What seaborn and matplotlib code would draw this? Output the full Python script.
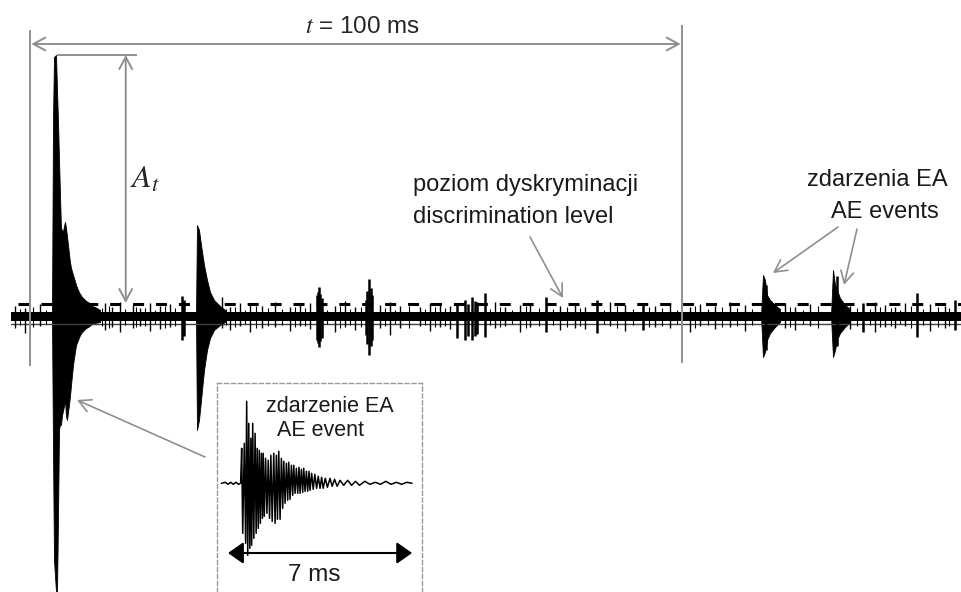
import matplotlib
matplotlib.use("Agg")
import matplotlib.pyplot as plt
import seaborn as sns

# AE signal diagram: time in ms, amplitude in arbitrary units (0 = baseline)
window_ms = 100          # the t = 100 ms counting window
threshold = 12           # discrimination level
band_t = [-2.9, 142.9]   # extent of the recorded trace
band_hi = [4, 4]
band_lo = [-5, -5]
baseline = -8

# first (largest) event, envelope
big_t = [3.37, 3.53, 3.68, 3.99, 4.14, 4.29, 4.45, 4.60, 4.75, 4.91, 5.06, 5.21,
         5.37, 5.52, 5.67, 5.83, 5.98, 6.13, 6.29, 6.60, 6.75, 7.06, 7.36, 7.67,
         7.98, 8.59, 8.90, 9.51, 9.97, 10.74]
big_top = [0, 196, 259, 261, 226, 196, 156, 121, 88, 86, 84, 90,
           94, 88, 80, 71, 62, 54, 48, 41, 38, 31, 26, 22,
           19, 15, 14, 10, 9, 6]
big_bot = [0, -134, -244, -276, -276, -204, -114, -108, -109, -99, -95, -90,
           -84, -100, -104, -96, -89, -80, -69, -49, -42, -29, -24, -19,
           -16, -12, -11, -8, -7, -6]

# second large event
ev2_t = [25.46, 25.61, 25.92, 26.23, 26.69, 27.15, 27.61, 28.22, 29.14, 29.91]
ev2_top = [0, 91, 86, 71, 51, 36, 24, 16, 10, 6]
ev2_bot = [0, -114, -104, -84, -54, -34, -22, -14, -9, -6]

# the two marked AE events on the right
ev3_t = [112.12, 112.42, 112.73, 113.04, 113.50, 114.26, 115.03]
ev3_top = [0, 41, 36, 21, 16, 11, 7]
ev3_bot = [0, -41, -36, -24, -17, -11, -6]
ev4_t = [122.85, 123.16, 123.47, 123.77, 124.23, 125.00, 125.77]
ev4_top = [0, 46, 31, 26, 18, 11, 7]
ev4_bot = [0, -41, -34, -24, -17, -11, -6]

# small bursts (spikes)
burst_t = [23.3, 23.45, 23.6, 44.0, 44.15, 44.3, 44.55, 44.8, 51.5, 51.75, 52.0, 52.25,
           52.5, 65.5, 66.7, 67.2, 67.8, 68.2, 68.6, 69.8, 79.1, 87.0, 94.0, 112.9,
           123.7, 127.8, 136.0, 141.9]
burst_top = [20, 14, 16, 21, 24, 29, 22, 18, 16, 25, 37, 28,
             21, 11, 16, 12, 19, 15, 14, 23, 19, 16, 11, 31,
             40, 13, 23, 16]
burst_bot = [-24, -18, -20, -24, -27, -31, -25, -22, -19, -28, -39, -30,
             -24, -22, -24, -20, -24, -20, -18, -21, -16, -17, -14, -34,
             -30, -16, -21, -14]

# noise hairs along the baseline band
hair_t = [-2.3, -0.8, 1.5, 11.5, 12.6, 13.8, 15.8, 16.9, 18.4, 19.9, 21.5, 29.4,
          30.7, 32.2, 33.7, 35.6, 37.6, 39.9, 41.4, 42.9, 46.8, 48.3, 49.9, 53.7,
          55.2, 56.8, 59.8, 61.4, 62.9, 64.4, 71.3, 72.9, 75.2, 76.7, 81.3, 83.6,
          85.1, 89.0, 91.3, 95.9, 98.2, 101.2, 102.8, 105.1, 107.4, 109.7, 115.8, 117.3,
          119.6, 125.8, 129.6, 131.1, 132.7, 134.2, 138.0, 140.3]
hair_top = [10, 8, 12, 13, 9, 14, 11, 8, 13, 10, 12, 19,
            9, 13, 11, 10, 14, 9, 12, 13, 10, 15, 9, 11,
            14, 10, 9, 13, 12, 10, 14, 9, 11, 13, 10, 12,
            9, 14, 11, 10, 13, 9, 12, 10, 14, 11, 13, 9,
            12, 10, 14, 11, 9, 13, 12, 10]
hair_bot = [-12, -17, -10, -14, -11, -16, -12, -10, -15, -13, -11, -12,
            -14, -10, -16, -12, -11, -15, -10, -13, -16, -11, -14, -12,
            -19, -12, -10, -15, -11, -13, -12, -10, -16, -11, -14, -12,
            -13, -10, -15, -11, -12, -16, -10, -13, -11, -15, -12, -14,
            -10, -13, -16, -11, -12, -10, -15, -12]

# finer hairs between them
hair2_t = [-1.5, 0.5, 2.5, 11.0, 12.1, 14.6, 16.3, 17.6, 19.1, 20.7,
           22.3, 30.1, 31.4, 33.0, 34.6, 36.5, 38.7, 40.6, 42.2, 45.6,
           47.5, 49.1, 50.7, 54.4, 56.0, 58.2, 60.6, 62.1, 63.6, 70.6,
           72.1, 74.0, 76.0, 78.0, 80.2, 82.4, 84.3, 88.0, 90.1, 92.5,
           95.0, 97.0, 99.2, 102.0, 104.0, 106.2, 108.5, 110.8, 116.5, 118.5,
           120.8, 126.8, 128.8, 130.4, 132.0, 133.5, 135.1, 137.0, 139.2, 141.0]
hair2_top = [7, 9, 6, 8, 10, 7, 9, 8, 6, 10,
             8, 7, 9, 6, 10, 8, 7, 9, 8, 6,
             10, 7, 9, 8, 6, 10, 7, 9, 8, 7,
             9, 6, 10, 8, 7, 9, 8, 6, 10, 7,
             9, 8, 6, 10, 7, 9, 8, 7, 9, 6,
             10, 8, 7, 9, 8, 6, 10, 7, 9, 8]
hair2_bot = [-9, -11, -8, -10, -12, -9, -11, -10, -8, -12,
             -10, -9, -11, -8, -12, -10, -9, -11, -10, -8,
             -12, -9, -11, -10, -8, -12, -9, -11, -10, -9,
             -11, -8, -12, -10, -9, -11, -10, -8, -12, -9,
             -11, -10, -8, -12, -9, -11, -10, -9, -11, -8,
             -12, -10, -9, -11, -10, -8, -12, -9, -11, -10]

# single AE event shown in the inset (ms from the start of the 7 ms window)
inset_t = [-0.25, -0.1, 0.0, 0.1, 0.2, 0.3, 0.4, 0.48,
           0.52, 0.56, 0.62, 0.67, 0.71, 0.75, 0.79, 0.83, 0.87, 0.90, 0.94, 0.98,
           1.03, 1.07, 1.11, 1.15, 1.19, 1.23, 1.27, 1.31, 1.34, 1.38, 1.43, 1.48,
           1.53, 1.58, 1.63, 1.68, 1.74, 1.79, 1.84, 1.88, 1.93, 1.98, 2.03, 2.08,
           2.12, 2.17, 2.22, 2.27, 2.31, 2.36, 2.41, 2.46, 2.50, 2.55, 2.60, 2.65,
           2.70, 2.74, 2.79, 2.84, 2.88, 2.93, 2.98, 3.03, 3.08, 3.12, 3.18, 3.24,
           3.30, 3.37, 3.43, 3.50, 3.56, 3.62, 3.70, 3.78, 3.88, 3.96, 4.05, 4.15,
           4.26, 4.4, 4.55, 4.7, 4.85, 5.0, 5.2, 5.4, 5.6, 5.8, 6.0, 6.2,
           6.4, 6.6, 6.8, 7.0]
inset_amp = [0, 1, -1, 1, -1, 1, -1, 0,
             35, -50, 40, -60, 82, -72, 60, -65, 45, -62, 60, -55,
             50, -50, 35, -45, 33, -40, 30, -35, 30, -33, 25, -30,
             23, -35, 28, -38, 30, -40, 28, -36, 32, -36, 25, -25,
             22, -20, 20, -17, 21, -16, 18, -12, 18, -10, 15, -10,
             16, -10, 14, -9, 15, -8, 12, -8, 12, -7, 10, -6,
             9, -5, 7, -5, 6, -5, 5, -4, 5, -3, 4, -3,
             3, -2, 3, -2, 2, -2, 2, -1, 1, -1, 2, -1,
             1, -1, 1, 0]
inset_span_ms = 7

sns.set_theme(style="white")
plt.rcParams["font.family"] = ["Liberation Sans", "DejaVu Sans"]
plt.rcParams["mathtext.fontset"] = "stix"

gray = "#8f8f8f"
fig = plt.figure(figsize=(9.62, 5.92), dpi=100)
ax = fig.add_axes([0, 0, 1, 1])
ax.set_xlim(-30 / 6.52, 932 / 6.52)
ax.set_ylim(-276, 316)
ax.axis("off")

# trace
ax.fill_between(band_t, band_lo, band_hi, color="black", lw=0)
sns.lineplot(x=band_t, y=[baseline, baseline], color="#444444", lw=1, ax=ax)
ax.vlines(hair2_t, hair2_bot, hair2_top, color="black", lw=0.8)
ax.vlines(hair_t, hair_bot, hair_top, color="black", lw=1.0)
ax.vlines(burst_t, burst_bot, burst_top, color="black", lw=1.8)
for tt, top, bot in [(big_t, big_top, big_bot), (ev2_t, ev2_top, ev2_bot),
                     (ev3_t, ev3_top, ev3_bot), (ev4_t, ev4_top, ev4_bot)]:
    ax.fill_between(tt, bot, top, color="black", lw=0.6, edgecolor="black")

# discrimination level
sns.lineplot(x=[-1.84, band_t[1]], y=[threshold, threshold], color="black", lw=2.2,
             linestyle=(0, (3.6, 3.9)), ax=ax)

# time window
ax.vlines([0], -50, 286, color=gray, lw=1.4)
ax.vlines([window_ms], -47, 291, color=gray, lw=1.4)
arr = dict(arrowstyle="<->,head_length=0.43,head_width=0.23", color=gray, lw=1.4,
           mutation_scale=20, shrinkA=0, shrinkB=0)
ax.annotate("", xy=(0.2, 272), xytext=(window_ms - 0.2, 272), arrowprops=arr)
ax.text(window_ms * 0.51, 289, r"$t$ = 100 ms", fontsize=17.5, ha="center", va="center")

# amplitude A_t
ax.hlines(big_top[3], 4.14, 16.4, color=gray, lw=1.4)
ax.annotate("", xy=(14.68, big_top[3]), xytext=(14.68, threshold + 1), arrowprops=arr)
ax.text(15.3, 136, r"$A_t$", fontsize=23, ha="left", va="center")

one = dict(arrowstyle="->,head_length=0.43,head_width=0.23", color=gray, lw=1.2,
           mutation_scale=20, shrinkA=0, shrinkB=0)
ax.text(58.7, 131, "poziom dyskryminacji", fontsize=17, ha="left", va="center", color="#1a1a1a")
ax.text(58.7, 99, "discrimination level", fontsize=17, ha="left", va="center", color="#1a1a1a")
ax.annotate("", xy=(81.75, 18), xytext=(76.69, 79), arrowprops=one)

ax.text(129.9, 136, "zdarzenia EA", fontsize=17, ha="center", va="center", color="#1a1a1a")
ax.text(131.1, 104, "AE events", fontsize=17, ha="center", va="center", color="#1a1a1a")
ax.annotate("", xy=(113.96, 43), xytext=(123.93, 89), arrowprops=one)
ax.annotate("", xy=(124.85, 31), xytext=(126.84, 87), arrowprops=one)

ax.annotate("", xy=(7.21, -84), xytext=(26.84, -141), arrowprops=one)

# inset with a single event
axin = fig.add_axes([217 / 962, 0, 205 / 962, 209 / 592])
axin.set_xlim(-11 / 26.3, 194 / 26.3)
axin.set_ylim(-108.7, 100.3)
axin.set_xticks([])
axin.set_yticks([])
axin.set_facecolor("white")
for side in ["top", "left", "right"]:
    axin.spines[side].set_visible(True)
    axin.spines[side].set_color("#9a9a9a")
    axin.spines[side].set_linestyle((0, (3, 2)))
    axin.spines[side].set_linewidth(1)
axin.spines["bottom"].set_visible(False)
sns.lineplot(x=inset_t, y=inset_amp, sort=False, estimator=None, color="black", lw=1.1, ax=axin)
axin.annotate("", xy=(0, -69.7), xytext=(inset_span_ms, -69.7),
              arrowprops=dict(arrowstyle="<|-|>,head_length=0.47,head_width=0.33",
                              color="black", lw=1.5, mutation_scale=20, shrinkA=0, shrinkB=0))
axin.text(3.27, -91.7, "7 ms", fontsize=17.5, ha="center", va="center", color="#1a1a1a")
axin.text(3.88, 76.6, "zdarzenie EA", fontsize=15.5, ha="center", va="center", color="#1a1a1a")
axin.text(3.53, 53.3, "AE event", fontsize=15.5, ha="center", va="center", color="#1a1a1a")

fig.savefig("out.png", dpi=100)
